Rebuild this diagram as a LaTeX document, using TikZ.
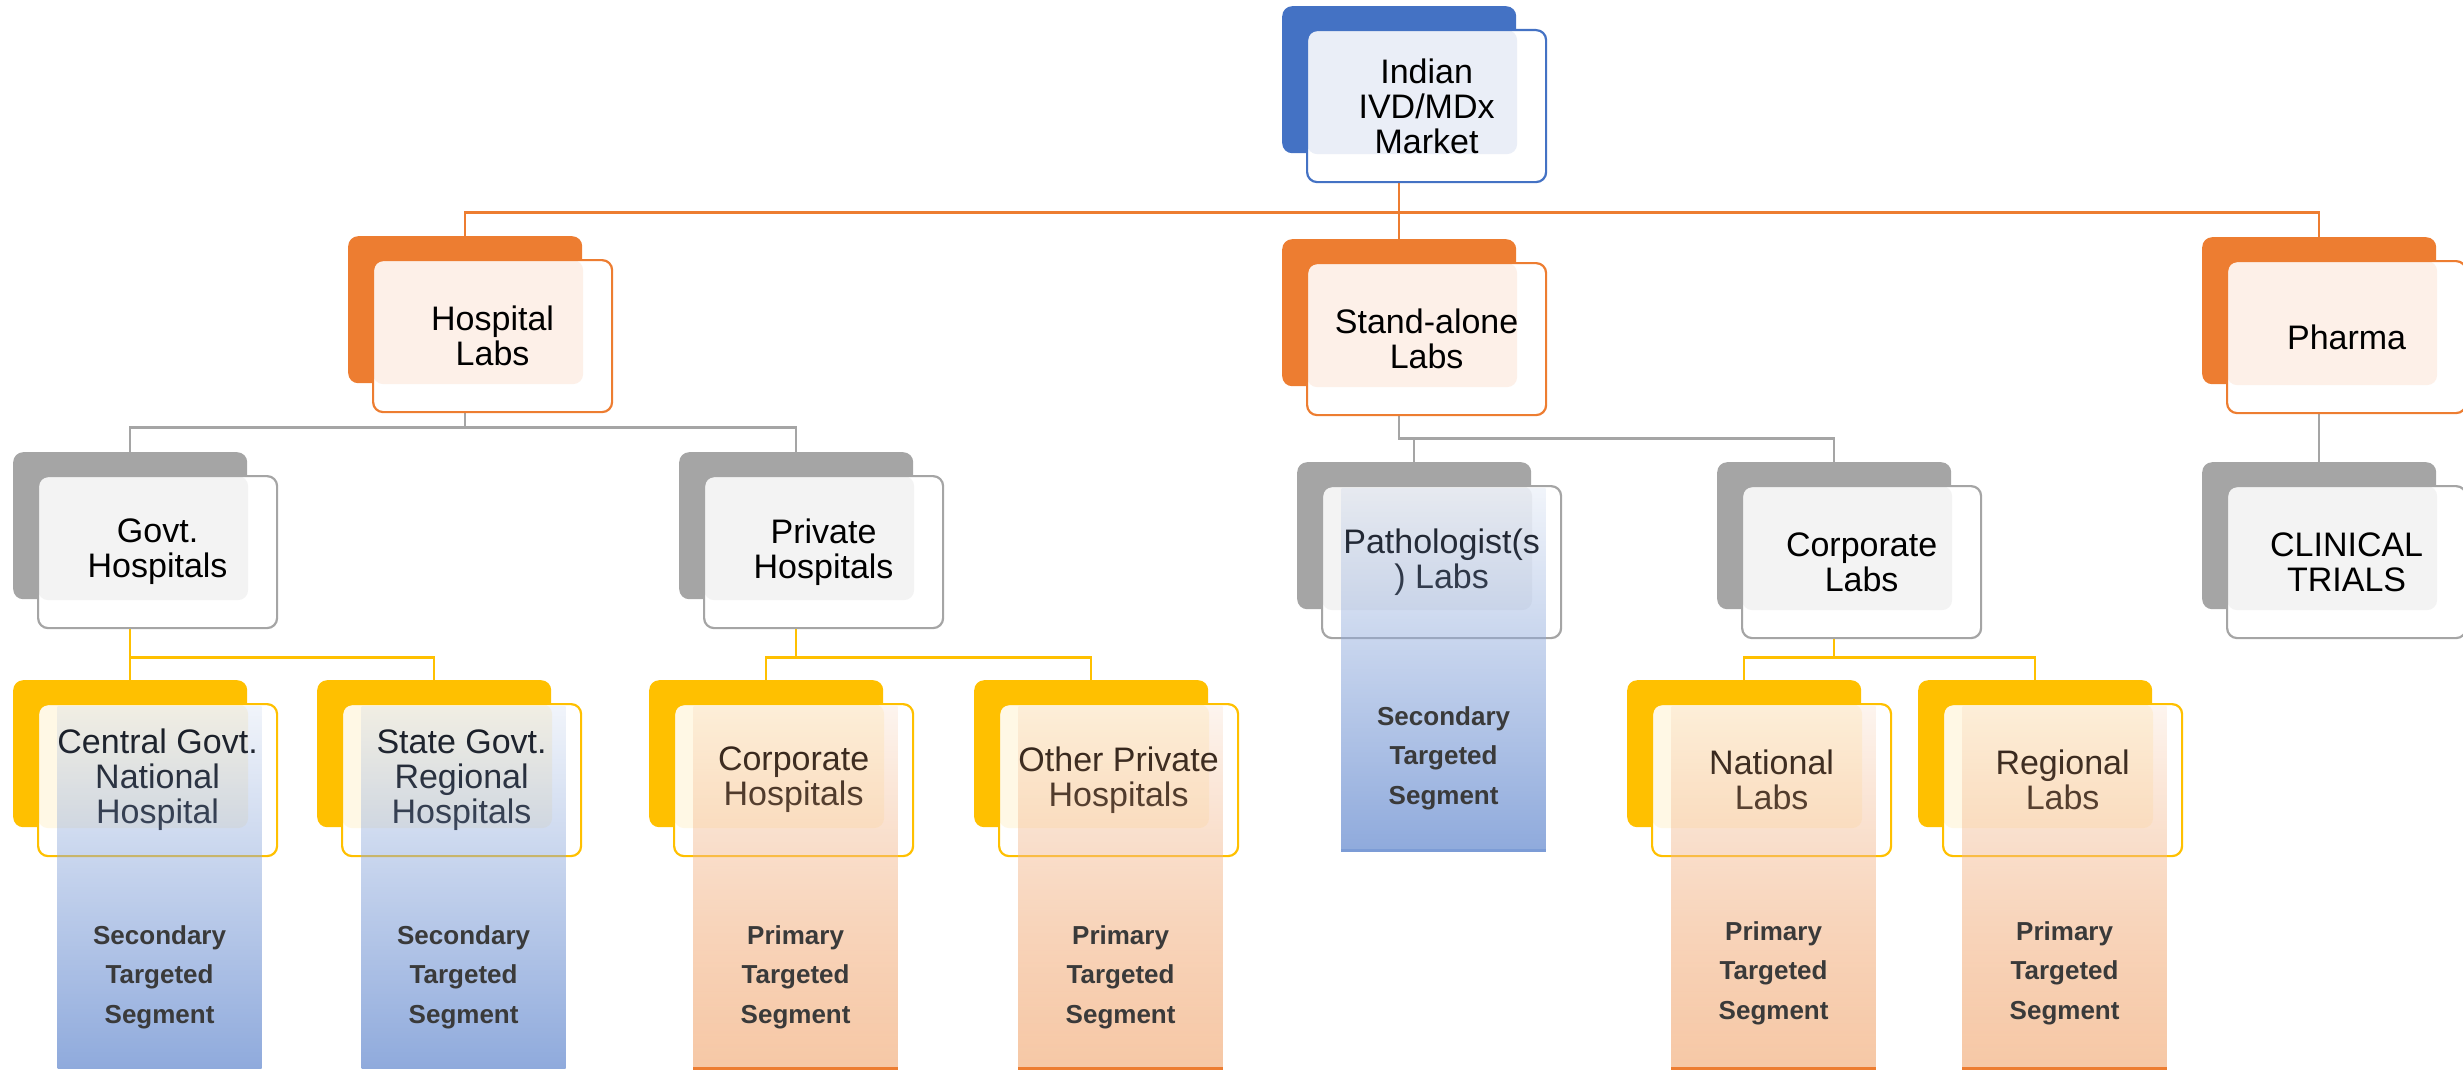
\documentclass[tikz,border=0pt]{standalone}
\usepackage{fontspec}
\setmainfont{Liberation Sans}
\usetikzlibrary{backgrounds, fadings}

\definecolor{blueD}{HTML}{4472C4}
\definecolor{blueT}{HTML}{EAEEF7}
\definecolor{orangeD}{HTML}{ED7D31}
\definecolor{orangeT}{HTML}{FDF0E8}
\definecolor{greyD}{HTML}{A5A5A5}
\definecolor{greyT}{HTML}{F3F3F3}
\definecolor{yellowD}{HTML}{FFC000}
\definecolor{yellowT}{HTML}{FFF8E5}
\definecolor{segB}{HTML}{8FAADC}
\definecolor{segO}{HTML}{F2AE7E}
\definecolor{segOL}{HTML}{F6C8A6}
\definecolor{segtext}{HTML}{3A3A3A}

\tikzfading[name=segfade, top color=transparent!88, bottom color=transparent!0]

\begin{document}
\begin{tikzpicture}[x=1pt, y=-1pt,
  bk/.style={fill=#1, rounded corners=10pt, minimum width=234pt, minimum height=147pt, inner sep=0pt, anchor=north west},
  fr/.style 2 args={draw=#1, line width=2.2pt, fill=white, rounded corners=10pt, minimum width=239pt, minimum height=152pt, inner sep=0pt, anchor=north west, align=center, font=\fontsize{34}{35}\selectfont,
    path picture={\fill[#2, rounded corners=10pt] (path picture bounding box.north west) rectangle ++(210pt,-124pt);}},
  con/.style={draw=#1, line width=2.2pt},
  seg/.style 2 args={top color=#1, bottom color=#2, path fading=segfade, minimum width=204pt, minimum height=362pt, inner sep=0pt, anchor=north},
  segtxt/.style={align=center, text=segtext, font=\fontsize{26}{39.5}\selectfont\bfseries}]
\useasboundingbox (0,0) rectangle (2463,1070);

% level 0
\node[bk=blueD] (topb) at (1282,6) {};
\node[fr={blueD}{blueT}] (top) at ([shift={(24,23)}]topb.north west) {Indian\\IVD/MDx\\Market};

% level 1
\node[bk=orangeD] (hlb) at (348,236) {};
\node[fr={orangeD}{orangeT}] (hl) at ([shift={(24,23)}]hlb.north west) {Hospital\\Labs};
\node[bk=orangeD] (slb) at (1282,239) {};
\node[fr={orangeD}{orangeT}] (sl) at ([shift={(24,23)}]slb.north west) {Stand-alone\\Labs};
\node[bk=orangeD] (phb) at (2202,237) {};
\node[fr={orangeD}{orangeT}] (ph) at ([shift={(24,23)}]phb.north west) {Pharma};

% level 2
\node[bk=greyD] (gvb) at (13,452) {};
\node[fr={greyD}{greyT}] (gv) at ([shift={(24,23)}]gvb.north west) {Govt.\\Hospitals};
\node[bk=greyD] (pvb) at (679,452) {};
\node[fr={greyD}{greyT}] (pv) at ([shift={(24,23)}]pvb.north west) {Private\\Hospitals};
\node[bk=greyD] (ptb) at (1297,462) {};
\node[fr={greyD}{greyT}] (pt) at ([shift={(24,23)}]ptb.north west) {Pathologist(s\\) Labs};
\node[bk=greyD] (clb) at (1717,462) {};
\node[fr={greyD}{greyT}] (cl) at ([shift={(24,23)}]clb.north west) {Corporate\\Labs};
\node[bk=greyD] (ctb) at (2202,462) {};
\node[fr={greyD}{greyT}] (ct) at ([shift={(24,23)}]ctb.north west) {CLINICAL\\TRIALS};

% level 3
\node[bk=yellowD] (cgb) at (13,680) {};
\node[fr={yellowD}{yellowT}] (cg) at ([shift={(24,23)}]cgb.north west) {Central Govt.\\National\\Hospital};
\node[bk=yellowD] (sgb) at (317,680) {};
\node[fr={yellowD}{yellowT}] (sg) at ([shift={(24,23)}]sgb.north west) {State Govt.\\Regional\\Hospitals};
\node[bk=yellowD] (chb) at (649,680) {};
\node[fr={yellowD}{yellowT}] (ch) at ([shift={(24,23)}]chb.north west) {Corporate\\Hospitals};
\node[bk=yellowD] (opb) at (974,680) {};
\node[fr={yellowD}{yellowT}] (op) at ([shift={(24,23)}]opb.north west) {Other Private\\Hospitals};
\node[bk=yellowD] (nlb) at (1627,680) {};
\node[fr={yellowD}{yellowT}] (nl) at ([shift={(24,23)}]nlb.north west) {National\\Labs};
\node[bk=yellowD] (rlb) at (1918,680) {};
\node[fr={yellowD}{yellowT}] (rl) at ([shift={(24,23)}]rlb.north west) {Regional\\Labs};

% connectors
\begin{scope}[on background layer]
\draw[con=orangeD] (topb.south) -- ++(0,59) coordinate (j0) -| (hlb.north);
\draw[con=orangeD] (j0) -| (slb.north);
\draw[con=orangeD] (j0) -| (phb.north);
\draw[con=greyD] (hlb.south) -- ++(0,44) coordinate (j1) -| (gvb.north);
\draw[con=greyD] (j1) -| (pvb.north);
\draw[con=greyD] (slb.south) -- ++(0,52) coordinate (j2) -| (ptb.north);
\draw[con=greyD] (j2) -| (clb.north);
\draw[con=greyD] (phb.south) -- (ctb.north);
\draw[con=yellowD] (gvb.south) -- ++(0,58) coordinate (j3) -| (cgb.north);
\draw[con=yellowD] (j3) -| (sgb.north);
\draw[con=yellowD] (pvb.south) -- ++(0,58) coordinate (j4) -| (chb.north);
\draw[con=yellowD] (j4) -| (opb.north);
\draw[con=yellowD] (clb.south) -- ++(0,48) coordinate (j5) -| (nlb.north);
\draw[con=yellowD] (j5) -| (rlb.north);
\end{scope}

% targeted segments
\node[seg={segB}{segB}] (cgp) at ([shift={(2,3)}]cg.north) {};
\node[seg={segB}{segB}] (sgp) at ([shift={(2,3)}]sg.north) {};
\node[seg={segB}{segB}] (ptp) at ([shift={(2,3)}]pt.north) {};
\node[seg={segO}{segOL}] (chp) at ([shift={(2,3)}]ch.north) {};
\node[seg={segO}{segOL}] (opp) at ([shift={(2,3)}]op.north) {};
\node[seg={segO}{segOL}] (nlp) at ([shift={(2,3)}]nl.north) {};
\node[seg={segO}{segOL}] (rlp) at ([shift={(2,3)}]rl.north) {};
\draw[draw=blueD!70, line width=3pt] (ptp.south west) -- (ptp.south east);
\draw[con=orangeD, line width=3pt] (chp.south west) -- (chp.south east);
\draw[con=orangeD, line width=3pt] (opp.south west) -- (opp.south east);
\draw[con=orangeD, line width=3pt] (nlp.south west) -- (nlp.south east);
\draw[con=orangeD, line width=3pt] (rlp.south west) -- (rlp.south east);

\node[segtxt] (cgs) at ([shift={(0,271)}]cgp.north) {Secondary\\Targeted\\Segment};
\node[segtxt] (sgs) at ([shift={(0,271)}]sgp.north) {Secondary\\Targeted\\Segment};
\node[segtxt] (pts) at ([shift={(0,270)}]ptp.north) {Secondary\\Targeted\\Segment};
\node[segtxt] (chs) at ([shift={(0,271)}]chp.north) {Primary\\Targeted\\Segment};
\node[segtxt] (ops) at ([shift={(0,271)}]opp.north) {Primary\\Targeted\\Segment};
\node[segtxt] (nls) at ([shift={(0,267)}]nlp.north) {Primary\\Targeted\\Segment};
\node[segtxt] (rls) at ([shift={(0,267)}]rlp.north) {Primary\\Targeted\\Segment};
\end{tikzpicture}
\end{document}
